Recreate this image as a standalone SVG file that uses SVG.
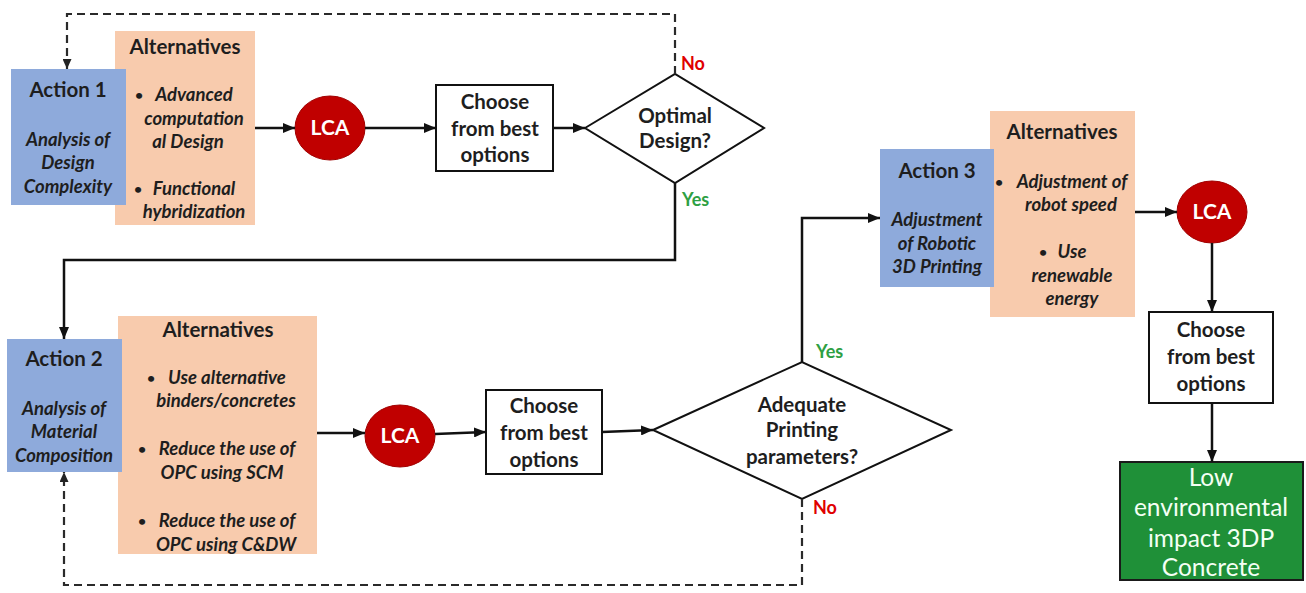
<svg xmlns="http://www.w3.org/2000/svg" width="1306" height="593" viewBox="0 0 1306 593">
<defs>
<marker id="ah" viewBox="0 0 12 10" refX="12" refY="5" markerWidth="12" markerHeight="10" markerUnits="userSpaceOnUse" orient="auto"><path d="M0,0 L12,5 L0,10 Z" fill="#111"/></marker>
<marker id="ahd" viewBox="0 0 10 9" refX="10" refY="4.5" markerWidth="10" markerHeight="9" markerUnits="userSpaceOnUse" orient="auto"><path d="M0,0 L10,4.5 L0,9 Z" fill="#222"/></marker>
<style>
text{font-family:Lato,"Liberation Sans",Arial,sans-serif;fill:#1e1e1e;text-anchor:middle}
.h{font-weight:bold;font-size:20.5px}
.i{font-weight:bold;font-style:italic;font-size:18.5px}
.b{font-weight:bold;font-size:14px;text-anchor:start}
.c{font-weight:bold;font-size:20.5px}
.blue{fill:#8eaadb}
.peach{fill:#f8cbad}
.box{fill:#fff;stroke:#111;stroke-width:2}
.lca{fill:#c00000;stroke:#a00000;stroke-width:1}
.lcat{fill:#fff;font-weight:bold;font-size:21px}
.yes{fill:#2ea043;font-weight:bold;font-size:18px;text-anchor:start}
.no{fill:#e00000;font-weight:bold;font-size:18px;text-anchor:start}
.ln{fill:none;stroke:#111;stroke-width:2.5}
.dl{fill:none;stroke:#2a2a2a;stroke-width:2.2;stroke-dasharray:8 5}
.g{fill:#f4fff4;font-size:24.5px;font-weight:normal}
</style>
</defs>
<rect width="1306" height="593" fill="#fff"/>

<g id="alt1">
<rect class="peach" x="115" y="31" width="140" height="194"/>
<text class="h" x="185" y="54">Alternatives</text>
<text class="b" x="135" y="100">•</text>
<text class="i" x="194" y="101">Advanced</text>
<text class="i" x="194" y="125">computation</text>
<text class="i" x="188" y="148">al Design</text>
<text class="b" x="134" y="194">•</text>
<text class="i" x="194" y="195">Functional</text>
<text class="i" x="194" y="218">hybridization</text>
</g>
<g id="action1">
<rect class="blue" x="11" y="69" width="115" height="136"/>
<text class="h" x="68" y="97">Action 1</text>
<text class="i" x="68" y="146">Analysis of</text>
<text class="i" x="68" y="169">Design</text>
<text class="i" x="68" y="193">Complexity</text>
</g>
<g id="lca1">
<ellipse class="lca" cx="330" cy="128" rx="35" ry="32"/>
<text class="lcat" x="330" y="135">LCA</text>
</g>
<g id="choose1">
<rect class="box" x="436" y="85" width="117" height="86"/>
<text class="c" x="495" y="109">Choose</text>
<text class="c" x="495" y="136">from best</text>
<text class="c" x="495" y="162">options</text>
</g>
<g id="decision1">
<polygon class="box" points="585,128 675,74 764,128 675,183"/>
<text class="c" x="675" y="123">Optimal</text>
<text class="c" x="675" y="148">Design?</text>
</g>

<g id="alt2">
<rect class="peach" x="118" y="316" width="199" height="238"/>
<text class="h" x="218" y="337">Alternatives</text>
<text class="b" x="147" y="383">•</text>
<text class="i" x="227" y="384">Use alternative</text>
<text class="i" x="226" y="407">binders/concretes</text>
<text class="b" x="138" y="454">•</text>
<text class="i" x="227" y="455">Reduce the use of</text>
<text class="i" x="222" y="479">OPC using SCM</text>
<text class="b" x="138" y="526">•</text>
<text class="i" x="227" y="527">Reduce the use of</text>
<text class="i" x="226" y="551">OPC using C&amp;DW</text>
</g>
<g id="action2">
<rect class="blue" x="7" y="339" width="115" height="133"/>
<text class="h" x="64" y="366">Action 2</text>
<text class="i" x="64" y="415">Analysis of</text>
<text class="i" x="64" y="438">Material</text>
<text class="i" x="64" y="462">Composition</text>
</g>
<g id="lca2">
<ellipse class="lca" cx="400" cy="436" rx="35" ry="31"/>
<text class="lcat" x="400" y="443">LCA</text>
</g>
<g id="choose2">
<rect class="box" x="486" y="390" width="116" height="84"/>
<text class="c" x="544" y="413">Choose</text>
<text class="c" x="544" y="440">from best</text>
<text class="c" x="544" y="467">options</text>
</g>
<g id="decision2">
<polygon class="box" points="653,430 802,362 951,430 802,499"/>
<text class="c" x="802" y="412">Adequate</text>
<text class="c" x="802" y="437">Printing</text>
<text class="c" x="802" y="464">parameters?</text>
</g>

<g id="alt3">
<rect class="peach" x="990" y="111" width="145" height="206"/>
<text class="h" x="1062" y="139">Alternatives</text>
<text class="b" x="995" y="187">•</text>
<text class="i" x="1072" y="188">Adjustment of</text>
<text class="i" x="1071" y="211">robot speed</text>
<text class="b" x="1039" y="257">•</text>
<text class="i" x="1072" y="258">Use</text>
<text class="i" x="1072" y="282">renewable</text>
<text class="i" x="1072" y="305">energy</text>
</g>
<g id="action3">
<rect class="blue" x="880" y="149" width="114" height="138"/>
<text class="h" x="937" y="178">Action 3</text>
<text class="i" x="937" y="226">Adjustment</text>
<text class="i" x="937" y="250">of Robotic</text>
<text class="i" x="937" y="273">3D Printing</text>
</g>
<g id="lca3">
<ellipse class="lca" cx="1212" cy="212" rx="35" ry="31"/>
<text class="lcat" x="1212" y="219">LCA</text>
</g>
<g id="choose3">
<rect class="box" x="1149" y="312" width="124" height="91"/>
<text class="c" x="1211" y="337">Choose</text>
<text class="c" x="1211" y="364">from best</text>
<text class="c" x="1211" y="391">options</text>
</g>
<g id="result">
<rect x="1120" y="462" width="183" height="118" fill="#1f9038" stroke="#1a1a1a" stroke-width="2"/>
<text class="g" x="1211" y="486">Low</text>
<text class="g" x="1211" y="516">environmental</text>
<text class="g" x="1211" y="547">impact 3DP</text>
<text class="g" x="1211" y="576">Concrete</text>
</g>

<g id="connectors">
<path class="dl" d="M675,74 V14 H67 V69" marker-end="url(#ahd)"/>
<path class="ln" d="M255,128 H295" marker-end="url(#ah)"/>
<path class="ln" d="M365,128 H436" marker-end="url(#ah)"/>
<path class="ln" d="M553,128 H585" marker-end="url(#ah)"/>
<path class="ln" d="M675,183 V260 H64 V339" marker-end="url(#ah)"/>
<path class="ln" d="M317,433 H365" marker-end="url(#ah)"/>
<path class="ln" d="M435,434 L486,432" marker-end="url(#ah)"/>
<path class="ln" d="M602,432 L653,430" marker-end="url(#ah)"/>
<path class="ln" d="M802,362 V218 H880" marker-end="url(#ah)"/>
<path class="dl" d="M802,499 V585 H64 V472" marker-end="url(#ahd)"/>
<path class="ln" d="M1135,212 H1177" marker-end="url(#ah)"/>
<path class="ln" d="M1212,243 V312" marker-end="url(#ah)"/>
<path class="ln" d="M1212,403 V462" marker-end="url(#ah)"/>
<text class="no" x="681" y="70">No</text>
<text class="yes" x="682" y="206">Yes</text>
<text class="yes" x="816" y="358">Yes</text>
<text class="no" x="813" y="514">No</text>
</g>
</svg>
